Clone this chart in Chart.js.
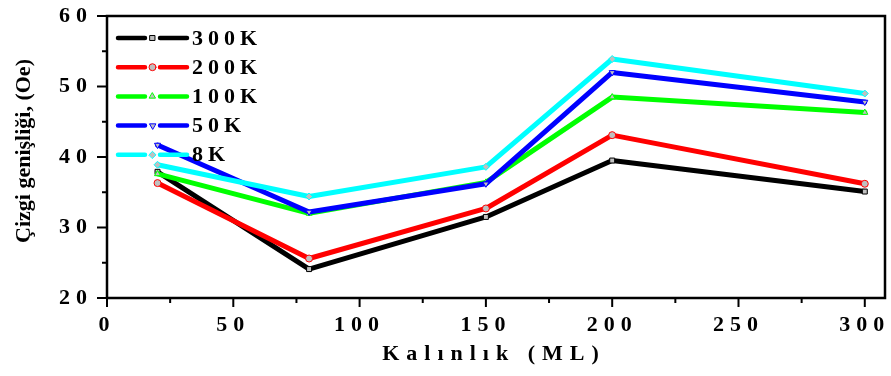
<!DOCTYPE html>
<html>
<head>
<meta charset="utf-8">
<script src="https://cdn.jsdelivr.net/npm/chart.js@4/dist/chart.umd.min.js"></script>
<style>
  html, body { margin: 0; padding: 0; background: #fff; }
  #wrap { width: 891px; height: 376px; position: relative; }
</style>
</head>
<body>
<div id="wrap"><canvas id="chart"></canvas></div>
<script>
  // data
  const thickness = [20, 80, 150, 200, 300];
  const width300K = [37.9, 24.1, 31.5, 39.5, 35.1];
  const width200K = [36.3, 25.6, 32.7, 43.1, 36.2];
  const width100K = [37.6, 32.0, 36.4, 48.5, 46.3];
  const width50K  = [41.7, 32.2, 36.2, 52.0, 47.8];
  const width8K   = [38.9, 34.4, 38.6, 53.9, 49.0];
  const seriesLabels = ['300K', '200K', '100K', '50K', '8K'];

  const xTitle = 'Kalınlık (ML)';
  const yTitle = 'Çizgi genişliği, (Oe)';
  const FONT = "'Liberation Serif', 'Times New Roman', serif";

  function toPoints(ys) {
    return thickness.map((x, i) => ({ x: x, y: ys[i] }));
  }

  function makeSet(label, ys, color, style, rot, order) {
    return {
      label: label,
      data: toPoints(ys),
      borderColor: color,
      backgroundColor: color,
      borderWidth: 5,
      borderJoinStyle: 'round',
      borderCapStyle: 'round',
      tension: 0,
      pointStyle: style,
      pointRotation: rot,
      pointRadius: 3.5,
      pointBorderWidth: 1,
      pointBorderColor: color,
      pointBackgroundColor: '#c0c0c0',
      order: order
    };
  }

  // spaced-out digits like the original figure
  const spacingPlugin = {
    id: 'spacing',
    beforeUpdate(chart) { chart.ctx.letterSpacing = '6px'; },
    beforeDraw(chart) { chart.ctx.letterSpacing = '6px'; }
  };

  // frame, tick marks, axis titles and legend
  const framePlugin = {
    id: 'frame',
    afterDraw(chart) {
      const ctx = chart.ctx;
      const a = chart.chartArea;
      const xs = chart.scales.x, ys = chart.scales.y;
      ctx.save();
      ctx.strokeStyle = '#000';
      ctx.lineWidth = 2.5;
      ctx.beginPath();
      ctx.moveTo(a.left, a.bottom);
      ctx.lineTo(a.left, a.top);
      ctx.lineTo(a.right, a.top);
      ctx.lineTo(a.right, a.bottom);
      ctx.lineTo(a.left, a.bottom);
      ctx.stroke();

      ctx.lineWidth = 2;
      ctx.beginPath();
      for (let v = 0; v <= 300; v += 25) {
        const px = xs.getPixelForValue(v);
        const len = v % 50 === 0 ? 9 : 5;
        ctx.moveTo(px, a.bottom);
        ctx.lineTo(px, a.bottom + len);
      }
      for (let v = 20; v <= 60; v += 5) {
        const py = ys.getPixelForValue(v);
        const len = v % 10 === 0 ? 10 : 5;
        ctx.moveTo(a.left, py);
        ctx.lineTo(a.left - len, py);
      }
      ctx.stroke();

      // axis titles
      ctx.fillStyle = '#000';
      ctx.textAlign = 'center';
      ctx.textBaseline = 'middle';
      ctx.font = 'bold 22px ' + FONT;
      ctx.letterSpacing = '7px';
      ctx.fillText(xTitle, (a.left + a.right) / 2 - 2, 354);
      ctx.save();
      ctx.translate(24, (a.top + a.bottom) / 2 - 6);
      ctx.rotate(-Math.PI / 2);
      ctx.letterSpacing = '0px';
      ctx.font = 'bold 22px ' + FONT;
      ctx.fillText(yTitle, 0, 0);
      ctx.restore();

      // legend
      ctx.font = 'bold 22px ' + FONT;
      ctx.letterSpacing = '5px';
      ctx.textAlign = 'left';
      const lx = a.left + 11;
      chart.data.datasets.forEach((ds, i) => {
        const y = a.top + 22 + i * 29.2;
        ctx.strokeStyle = ds.borderColor;
        ctx.lineWidth = 4.5;
        ctx.lineCap = 'round';
        ctx.beginPath();
        ctx.moveTo(lx, y);
        ctx.lineTo(lx + 27, y);
        ctx.moveTo(lx + 42, y);
        ctx.lineTo(lx + 69, y);
        ctx.stroke();
        ctx.fillStyle = ds.pointBackgroundColor;
        ctx.strokeStyle = ds.pointBorderColor;
        ctx.lineWidth = 1;
        if (Chart.helpers && Chart.helpers.drawPoint) {
          Chart.helpers.drawPoint(ctx, {
            pointStyle: ds.pointStyle, rotation: ds.pointRotation,
            radius: ds.pointRadius, borderWidth: 1
          }, lx + 34.5, y);
        } else {
          ctx.fillRect(lx + 32, y - 2.5, 5, 5);
        }
        ctx.fillStyle = '#000';
        ctx.fillText(ds.label, lx + 74, y + 1);
      });
      ctx.restore();
    }
  };

  Chart.defaults.color = '#000';
  Chart.defaults.font.family = FONT;

  new Chart(document.getElementById('chart'), {
    type: 'line',
    data: {
      datasets: [
        makeSet(seriesLabels[0], width300K, '#000000', 'rect', 0, 5),
        makeSet(seriesLabels[1], width200K, '#ff0000', 'circle', 0, 4),
        makeSet(seriesLabels[2], width100K, '#00ff00', 'triangle', 0, 3),
        makeSet(seriesLabels[3], width50K, '#0000ff', 'triangle', 180, 2),
        makeSet(seriesLabels[4], width8K, '#00ffff', 'rectRot', 0, 1)
      ]
    },
    options: {
      responsive: true,
      maintainAspectRatio: false,
      animation: false,
      layout: { padding: { top: 16, right: 6, left: 0, bottom: 0 } },
      plugins: {
        legend: { display: false },
        tooltip: { enabled: false }
      },
      scales: {
        x: {
          type: 'linear',
          min: 0,
          max: 308,
          grid: { display: false, drawTicks: false },
          border: { display: false },
          ticks: {
            stepSize: 50,
            includeBounds: false,
            padding: 14,
            maxRotation: 0,
            font: { size: 22, weight: 'bold' }
          },
          afterFit(scale) {
            scale.height = 78;
            scale.paddingLeft = 0;
            scale.paddingRight = 0;
          }
        },
        y: {
          min: 20,
          max: 60,
          grid: { display: false, drawTicks: false },
          border: { display: false },
          ticks: {
            stepSize: 10,
            padding: 14,
            font: { size: 22, weight: 'bold' }
          },
          afterFit(scale) {
            scale.width = 107;
            scale.paddingTop = 0;
            scale.paddingBottom = 0;
          }
        }
      }
    },
    plugins: [spacingPlugin, framePlugin]
  });
</script>
</body>
</html>
